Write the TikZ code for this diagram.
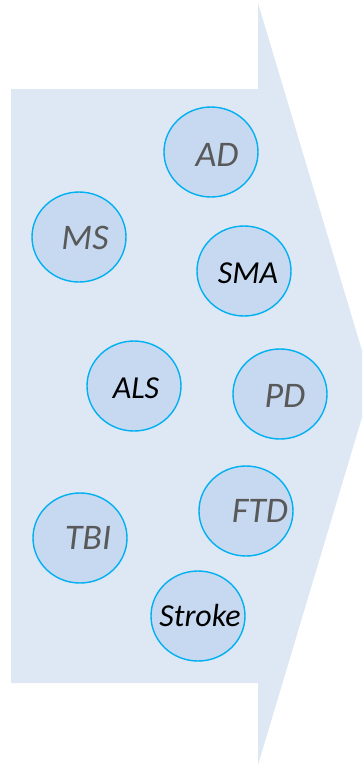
\documentclass[tikz,border=0pt]{standalone}
\usepackage{fontspec}
\setmainfont{Carlito}
\usetikzlibrary{shapes.geometric}
\definecolor{bgblue}{RGB}{222,232,245}
\definecolor{cfill}{RGB}{198,217,240}
\definecolor{cline}{RGB}{0,176,240}
\definecolor{tgrey}{RGB}{89,89,89}
\tikzset{
  bubble/.style={ellipse, draw=cline, fill=cfill, line width=1.4pt, minimum width=94pt, minimum height=90pt, inner sep=0pt},
  lbl/.style={inner sep=0pt, anchor=center},
  greylbl/.style={lbl, text=tgrey, font=\fontsize{36}{36}\selectfont\itshape},
  blacklbl/.style={lbl, text=black, font=\fontsize{32}{32}\selectfont\itshape}
}
\begin{document}
\begin{tikzpicture}[x=1pt,y=-1pt]
\useasboundingbox (0,0) rectangle (362,766);
\begin{scope}
\clip (0,0) rectangle (362,766);
\fill[bgblue] (11,89) -- (258,89) -- (258,3) -- (372,384) -- (258,765) -- (258,683) -- (11,683) -- cycle;
\end{scope}
\node[bubble] (ad) at (211,152) {};
\node[bubble] (ms) at (79,237) {};
\node[bubble] (sma) at (244,271) {};
\node[bubble] (als) at (134,386) {};
\node[bubble] (pd) at (280,394) {};
\node[bubble] (ftd) at (246,511) {};
\node[bubble] (tbi) at (80,538) {};
\node[bubble] (stroke) at (198,616) {};
\node[greylbl] (tad) at (217,155) {AD};
\node[greylbl] (tms) at (85,238) {MS};
\node[blacklbl] (tsma) at (248,273) {SMA};
\node[blacklbl] (tals) at (136,388) {ALS};
\node[greylbl] (tpd) at (285,396) {PD};
\node[greylbl] (tftd) at (260,511) {FTD};
\node[greylbl] (ttbi) at (88,538) {TBI};
\node[blacklbl] (tstroke) at (200,615) {Stroke};
\end{tikzpicture}
\end{document}
